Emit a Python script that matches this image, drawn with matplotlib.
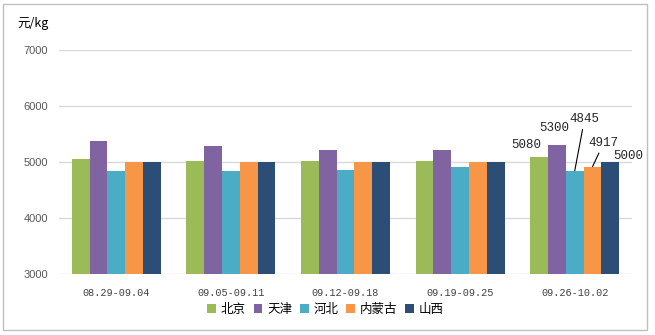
import matplotlib
matplotlib.use("Agg")
import matplotlib.pyplot as plt
from matplotlib.patches import Rectangle
import numpy as np

plt.rcParams['font.family'] = ['Noto Sans CJK SC', 'DejaVu Sans']

weeks = ["08.29-09.04", "09.05-09.11", "09.12-09.18", "09.19-09.25", "09.26-10.02"]
regions = ["北京", "天津", "河北", "内蒙古", "山西"]
beijing = [5050, 5025, 5025, 5025, 5080]
tianjin = [5370, 5285, 5210, 5210, 5300]
hebei = [4845, 4845, 4865, 4905, 4845]
neimenggu = [5000, 5000, 5000, 5000, 4917]
shanxi = [5000, 5000, 5000, 5000, 5000]
colors = ["#9BBB59", "#8064A2", "#4BACC6", "#F79646", "#2C4D75"]

# label offsets (points) for the last week's values
label_offsets = [(-9, 9), (-2, 12), (7, 37), (8, 17), (13, 4)]

fig = plt.figure(figsize=(6.55, 3.35), dpi=100)
ax = fig.add_axes([0.090, 0.182, 0.875, 0.669])

x = np.arange(len(weeks))
w = 0.155
series = [beijing, tianjin, hebei, neimenggu, shanxi]
bars = []
for i, (name, vals) in enumerate(zip(regions, series)):
    b = ax.bar(x + (i - 2) * w, vals, w, color=colors[i], label=name, zorder=3)
    bars.append(b)

ax.set_ylim(3000, 7000)
ax.set_xlim(-0.5, len(weeks) - 0.5)
ax.set_yticks([3000, 4000, 5000, 6000, 7000])
ax.yaxis.grid(True, color="#D9D9D9", lw=1, zorder=0)
for s in ax.spines.values():
    s.set_visible(False)
ax.tick_params(axis="both", length=0)
ax.tick_params(axis="y", pad=8, labelcolor="#595959")
ax.set_yticklabels(["3000", "4000", "5000", "6000", "7000"], family="Liberation Sans", fontsize=8)
ax.set_xticks(x)
ax.set_xticklabels(weeks, family="Liberation Mono", fontsize=7.3, color="#404040")
ax.tick_params(axis="x", pad=10)

# data labels on the last week
for i, b in enumerate(bars):
    rect = b[-1]
    cx = rect.get_x() + rect.get_width() / 2
    val = series[i][-1]
    dx, dy = label_offsets[i]
    arrow = None
    if i in (2, 3):
        arrow = dict(arrowstyle="-", color="black", lw=0.8, shrinkA=1, shrinkB=0)
    ax.annotate(str(val), xy=(cx, val), xytext=(dx, dy), textcoords="offset points",
                ha="center", va="center", fontsize=9, family="Liberation Mono",
                color="#262626", arrowprops=arrow, zorder=5)

fig.text(0.027, 0.930, "元/kg", fontsize=9, ha="left", va="center")

ax.legend(loc="center", bbox_to_anchor=(0.465, -0.158), ncol=5, frameon=False,
          fontsize=9, handlelength=0.7, handleheight=0.7, handletextpad=0.4,
          columnspacing=0.6, borderaxespad=0, borderpad=0)

fig.patches.append(Rectangle((0.005, 0.015), 0.983, 0.973, transform=fig.transFigure,
                             fill=False, edgecolor="#BFBFBF", lw=1))

fig.savefig("out.png", dpi=100)
